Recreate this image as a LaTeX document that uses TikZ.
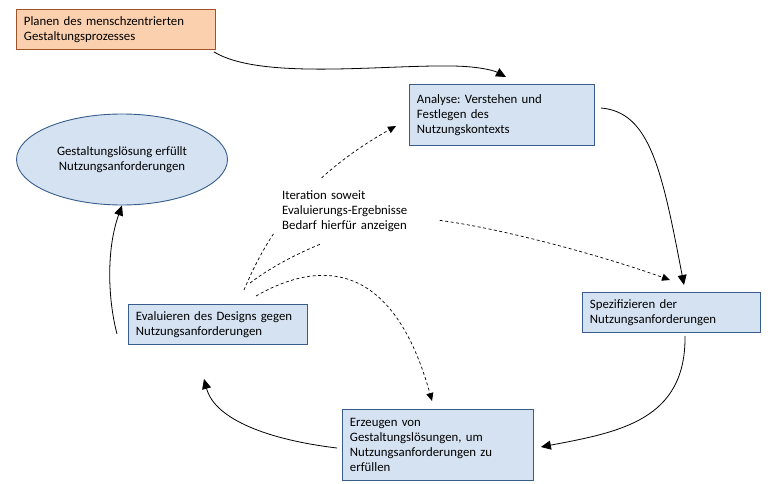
\documentclass[tikz,border=0pt]{standalone}
\usepackage{fontspec}
\setmainfont{Carlito}
\frenchspacing
\usetikzlibrary{arrows.meta,shapes.geometric,calc}
\definecolor{bfill}{RGB}{213,226,242}
\definecolor{bdraw}{RGB}{56,93,138}
\definecolor{ofill}{RGB}{251,208,174}
\definecolor{odraw}{RGB}{160,82,40}
\tikzset{
  txt/.style={font=\fontsize{12.8}{15.2}\selectfont},
  bluebox/.style={txt, draw=bdraw, fill=bfill, line width=0.9pt, anchor=north west, align=left, inner xsep=7.5pt, inner ysep=0pt},
  orangebox/.style={bluebox, draw=odraw, fill=ofill},
  arr/.style={line width=0.8pt, -{Triangle[length=10pt,width=9pt]}},
  darr/.style={line width=0.7pt, dash pattern=on 3pt off 2.5pt, -{Triangle[length=8pt,width=7pt]}}
}
\begin{document}
\begin{tikzpicture}[x=1pt,y=-1pt]
\useasboundingbox (0,0) rectangle (777,484);
% boxes
\node[orangebox, text width=184pt, minimum height=40pt] (plan) at (16,9) {Planen des menschzentrierten\\Gestaltungsprozesses};
\node[bluebox, text width=170pt, minimum height=61pt] (an) at (409,84) {Analyse: Verstehen und\\Festlegen des\\Nutzungskontexts};
\node[txt, ellipse, draw=bdraw, fill=bfill, line width=0.9pt, minimum width=211pt, minimum height=91pt, align=center] (goal) at (122,159.5) {Gestaltungslösung erfüllt\\Nutzungsanforderungen};
\node[bluebox, text width=164pt, minimum height=40pt] (ev) at (128,304) {Evaluieren des Designs gegen\\Nutzungsanforderungen};
\node[bluebox, text width=163pt, minimum height=40pt] (sp) at (582,292) {Spezifizieren der\\Nutzungsanforderungen};
\node[bluebox, text width=176pt, minimum height=71pt] (er) at (342,409) {Erzeugen von\\Gestaltungslösungen, um\\Nutzungsanforderungen zu\\erfüllen};
% free ends of the dashed connectors
\coordinate (d1) at (244,290);
\coordinate (d2) at (250,283);
\coordinate (d3) at (256,296);
% dashed connectors
\draw[darr] (d1) .. controls (265,240) and (300,180) .. ([shift={(-13,42)}]an.north west);
\draw[darr] (d2) .. controls (300,245) and (390,214) .. (437,220) .. controls (500,228) and (600,255) .. ([shift={(88,-12)}]sp.north west);
\draw[darr] (d3) .. controls (310,265) and (390,250) .. ([shift={(90,-8)}]er.north west);
% label over dashed lines
\node[txt, fill=white, anchor=north west, align=left, inner xsep=8pt, inner ysep=4pt, text width=148pt, minimum height=66pt] (it) at (274,178) {Iteration soweit\\Evaluierungs-Ergebnisse\\Bedarf hierfür anzeigen};
% solid connectors
\draw[arr] ([shift={(-2,2)}]plan.south east) .. controls (260,80) and (380,65) .. (450,66) .. controls (475,66) and (493,70) .. ([shift={(97,-7)}]an.north west);
\draw[arr] ([shift={(6,24)}]an.north east) .. controls (650,112) and (662,170) .. ([shift={(102,-7)}]sp.north west);
\draw[arr] ([shift={(103,3)}]sp.south west) .. controls (686,420) and (620,432) .. ([shift={(7,38)}]er.north east);
\draw[arr] ([shift={(-5,39)}]er.north west) .. controls (270,440) and (215,420) .. ([shift={(76,34)}]ev.south west);
\draw[arr] ([shift={(-11,-11)}]ev.south west) .. controls (108,300) and (106,250) .. (goal.south);
\end{tikzpicture}
\end{document}
